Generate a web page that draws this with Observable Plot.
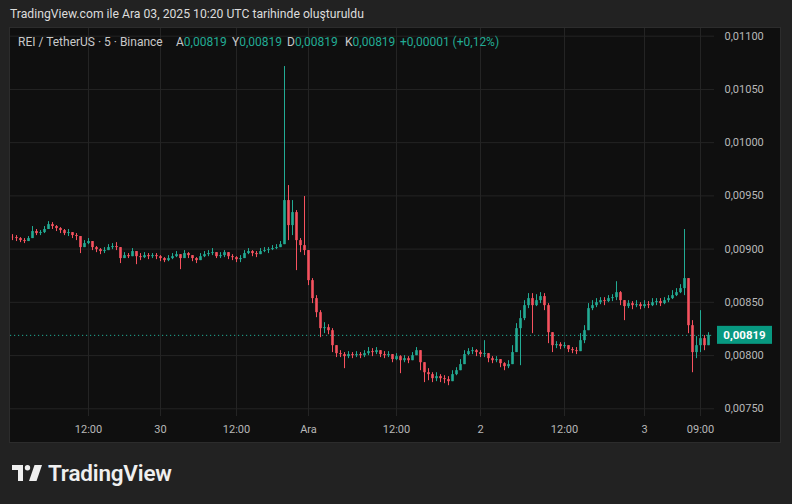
<!DOCTYPE html>
<html>
<head>
<meta charset="utf-8">
<script src="https://cdn.jsdelivr.net/npm/d3@7"></script>
<script src="https://cdn.jsdelivr.net/npm/@observablehq/plot@0.6"></script>
<style>
  html, body { margin: 0; padding: 0; background: #222222; width: 792px; height: 504px; overflow: hidden;
    font-family: Roboto, "Noto Sans", "DejaVu Sans", sans-serif; }
  #title { position: absolute; left: 10px; top: 7px; font-size: 12.2px; color: #dcdcdc; white-space: nowrap; }
  #panel { position: absolute; left: 9px; top: 27px; width: 770px; height: 414px; background: #0f0f0f;
    border: 1px solid #2c2c2c; overflow: hidden; }
  #chart { position: absolute; left: 0; top: 0; }
  .lg { position: absolute; top: 7px; font-size: 12px; color: #c9c9c9; white-space: nowrap; }
  .g { color: #22ab94; }
  #brand { position: absolute; left: 12px; top: 459px; height: 28px; display: flex; align-items: center; }
  #brand span { font-size: 22.5px; font-weight: 600; color: #efefef; margin-left: 6px; letter-spacing: -0.2px; }
</style>
</head>
<body>
<div id="title">TradingView.com ile Ara 03, 2025 10:20 UTC tarihinde oluşturuldu</div>
<div id="panel">
  <div id="chart"></div>
  <div class="lg" style="left:8px">REI / TetherUS · 5 · Binance</div>
  <div class="lg" style="left:166px">A<span class="g">0,00819</span></div>
  <div class="lg" style="left:222px">Y<span class="g">0,00819</span></div>
  <div class="lg" style="left:277px">D<span class="g">0,00819</span></div>
  <div class="lg" style="left:335px">K<span class="g">0,00819</span></div>
  <div class="lg g" style="left:390px">+0,00001 (+0,12%)</div>
</div>
<div id="brand">
  <svg width="30" height="16" viewBox="0 0 30 16">
    <path d="M0 0 H11 V16 H6 V5 H0 Z" fill="#efefef"/>
    <circle cx="15.5" cy="2.7" r="2.7" fill="#efefef"/>
    <path d="M22.5 0 H30 L24.5 16 H17 Z" fill="#efefef"/>
  </svg>
  <span>TradingView</span>
</div>
<script>
// Prices in units of 0.00001 USDT, one candle per column
const firstOpen = 911.0;
const close = [
910.8,909.9,908.0,907.1,909.9,916.5,914.6,915.5,918.4,923.0,
921.2,919.3,917.4,914.6,915.5,912.7,911.8,901.4,905.2,907.1,
901.4,899.5,897.7,898.6,901.4,902.4,901.4,891.1,893.9,892.9,
897.7,892.9,892.0,893.9,892.9,893.9,892.9,891.1,889.2,891.1,
892.9,894.8,891.1,895.8,893.9,891.1,889.2,892.9,894.8,895.8,
896.7,892.9,893.9,896.7,892.9,892.0,890.1,891.1,895.8,897.7,
895.8,894.8,897.7,898.6,899.5,900.5,901.4,904.2,945.6,922.1,
934.3,908.0,903.3,898.6,870.4,853.5,840.3,825.3,826.2,823.4,
809.3,801.8,800.9,799.0,800.9,799.9,800.9,799.9,801.8,803.7,
802.8,804.6,800.9,799.9,800.9,796.2,799.0,795.2,797.1,795.2,
799.9,804.6,793.3,783.9,782.1,778.3,780.2,778.3,777.4,775.5,
782.1,785.8,791.5,800.9,803.7,804.6,802.8,800.9,801.8,797.1,
795.2,796.2,792.4,789.6,791.5,802.8,825.3,834.7,846.9,853.5,
846.9,851.6,855.4,846.9,821.5,809.3,810.3,808.4,809.3,805.6,
804.6,803.7,814.0,823.4,844.1,846.9,849.7,851.6,850.7,853.5,
854.4,859.1,851.6,846.0,848.8,846.9,847.8,846.0,847.8,846.9,
849.7,850.7,848.8,851.6,853.5,856.3,859.1,862.9,872.3,828.1,
802.8,809.3,815.9,809.3,819.0];
const high = [
913.6,912.7,910.8,909.9,911.8,921.2,918.4,917.4,921.2,925.8,
924.9,922.1,920.2,918.4,918.4,915.5,914.6,908.0,908.0,909.9,
905.2,902.4,900.5,901.4,904.2,905.2,906.1,896.7,896.7,895.8,
900.5,896.7,895.8,896.7,895.8,895.8,895.8,893.9,892.0,893.9,
895.8,897.7,894.8,898.6,896.7,893.9,892.0,895.8,897.7,898.6,
900.5,895.8,896.7,898.6,895.8,894.8,892.9,893.9,898.6,900.5,
898.6,897.7,900.5,901.4,901.4,903.3,904.2,907.1,1071.5,959.7,
945.6,936.2,909.9,949.4,896.7,872.3,856.3,842.2,830.9,829.0,
825.3,809.3,804.6,802.8,803.7,802.8,803.7,802.8,804.6,807.5,
806.5,807.5,804.6,803.7,803.7,799.9,801.8,799.9,799.9,799.0,
802.8,807.5,799.9,793.3,787.7,783.9,783.9,782.1,781.1,780.2,
785.8,788.6,796.2,804.6,806.5,807.5,805.6,804.6,814.0,800.9,
799.0,799.0,796.2,793.3,795.2,809.3,830.0,842.2,851.6,858.2,
858.2,857.2,859.1,858.2,848.8,814.0,813.1,812.1,812.1,808.4,
807.5,807.5,820.6,828.1,848.8,851.6,853.5,854.4,854.4,856.3,
857.2,869.4,860.1,851.6,851.6,850.7,851.6,849.7,851.6,850.7,
853.5,853.5,853.5,854.4,856.3,861.0,862.9,866.6,918.4,867.6,
832.8,817.8,842.2,818.7,821.5];
const low = [
908.0,907.1,906.1,905.2,907.1,909.9,912.7,912.7,914.6,919.3,
918.4,916.5,914.6,912.7,911.8,909.9,908.0,895.8,901.4,904.2,
898.6,896.7,894.8,895.8,898.6,899.5,898.6,886.4,891.1,891.1,
892.9,885.4,889.2,891.1,890.1,891.1,890.1,888.2,887.3,888.2,
890.1,892.0,880.7,892.0,891.1,888.2,886.4,890.1,892.0,892.9,
893.9,891.1,891.1,892.0,890.1,889.2,887.3,887.3,892.9,894.8,
892.9,892.0,894.8,896.7,895.8,898.6,899.5,901.4,905.2,908.0,
912.7,879.8,896.7,893.9,865.7,848.8,835.6,816.8,820.6,819.6,
802.8,798.1,798.1,787.7,797.1,797.1,798.1,797.1,798.1,799.9,
799.0,800.9,798.1,797.1,798.1,793.3,795.2,783.0,793.3,792.4,
796.2,799.9,785.8,774.6,776.4,774.6,775.5,774.6,773.6,771.7,
776.4,781.1,787.7,795.2,799.9,800.9,799.0,798.1,798.1,793.3,
792.4,793.3,788.6,785.8,787.7,793.3,809.3,790.5,832.8,844.1,
820.6,846.0,848.8,842.2,811.2,802.8,806.5,805.6,806.5,802.8,
801.8,800.9,805.6,811.2,832.8,842.2,845.0,847.8,846.9,849.7,
850.7,851.6,846.9,832.8,844.1,843.1,845.0,843.1,844.1,844.1,
846.0,846.9,846.0,847.8,849.7,852.6,855.4,858.2,856.3,820.6,
783.9,797.1,802.8,804.6,814.0];
const priceUnit = 1e-5;
const lastPrice = 0.00819;
const yTicks = [0.0075, 0.0080, 0.0085, 0.0090, 0.0095, 0.0100, 0.0105, 0.0110];
const xTickIdx = [19, 37, 56, 74, 96, 117, 138, 158, 172];
const xTickLabels = ["12:00", "30", "12:00", "Ara", "12:00", "2", "12:00", "3", "09:00"];

const UP = "#22ab94", DOWN = "#f7525f";
const candles = close.map((c, i) => {
  const o = i === 0 ? firstOpen : close[i - 1];
  return {
    i,
    open: o * priceUnit,
    close: c * priceUnit,
    high: Math.max(high[i], o, c) * priceUnit,
    low: Math.min(low[i], o, c) * priceUnit,
    up: c >= o
  };
});
const ups = candles.filter(d => d.up), downs = candles.filter(d => !d.up);
const fmt = d => d3.format(".5f")(d).replace(".", ",");
const FONT = "Roboto, 'Noto Sans', sans-serif";

const chart = Plot.plot({
  width: 770, height: 414,
  marginLeft: 0, marginRight: 66, marginTop: 0, marginBottom: 26,
  style: { background: "transparent", color: "#b2b5be", fontSize: "11px", fontFamily: FONT },
  x: { type: "linear", domain: [-0.5, 175.5], axis: null, label: null },
  y: { domain: [0.0075, 0.011], range: [380.3, 7.7], axis: null, label: null },
  marks: [
    Plot.ruleY(yTicks, { stroke: "#242424", strokeWidth: 1 }),
    Plot.ruleX(xTickIdx, { stroke: "#242424", strokeWidth: 1 }),
    Plot.axisY(yTicks, { anchor: "right", tickSize: 0, tickPadding: 10, tickFormat: fmt, fill: "#b8b8b8", fontSize: 11, label: null }),
    Plot.axisX(xTickIdx, { anchor: "bottom", tickSize: 0, tickPadding: 9, fill: "#b8b8b8", fontSize: 11, label: null,
      tickFormat: d => xTickLabels[xTickIdx.indexOf(d)] }),
    Plot.ruleY([lastPrice], { stroke: UP, strokeDasharray: "1.2,2.8", strokeWidth: 1 }),
    Plot.ruleX(ups, { x: "i", y1: "low", y2: "high", stroke: UP, strokeWidth: 1 }),
    Plot.ruleX(downs, { x: "i", y1: "low", y2: "high", stroke: DOWN, strokeWidth: 1 }),
    Plot.ruleX(ups, { x: "i", y1: "open", y2: "close", stroke: UP, strokeWidth: 2.6 }),
    Plot.ruleX(downs, { x: "i", y1: "open", y2: "close", stroke: DOWN, strokeWidth: 2.6 })
  ]
});

// last-price label on the price axis
const ly = chart.scale("y").apply(lastPrice);
const svg = d3.select(chart);
svg.append("rect").attr("x", 707).attr("y", ly - 9).attr("width", 55).attr("height", 18).attr("fill", "#089981");
svg.append("text").attr("x", 734.5).attr("y", ly).attr("dy", "0.35em").attr("text-anchor", "middle")
  .attr("fill", "#ffffff").attr("font-weight", "bold").attr("font-size", 11.5).attr("font-family", FONT)
  .text(fmt(lastPrice));

document.getElementById("chart").append(chart);
</script>
</body>
</html>
